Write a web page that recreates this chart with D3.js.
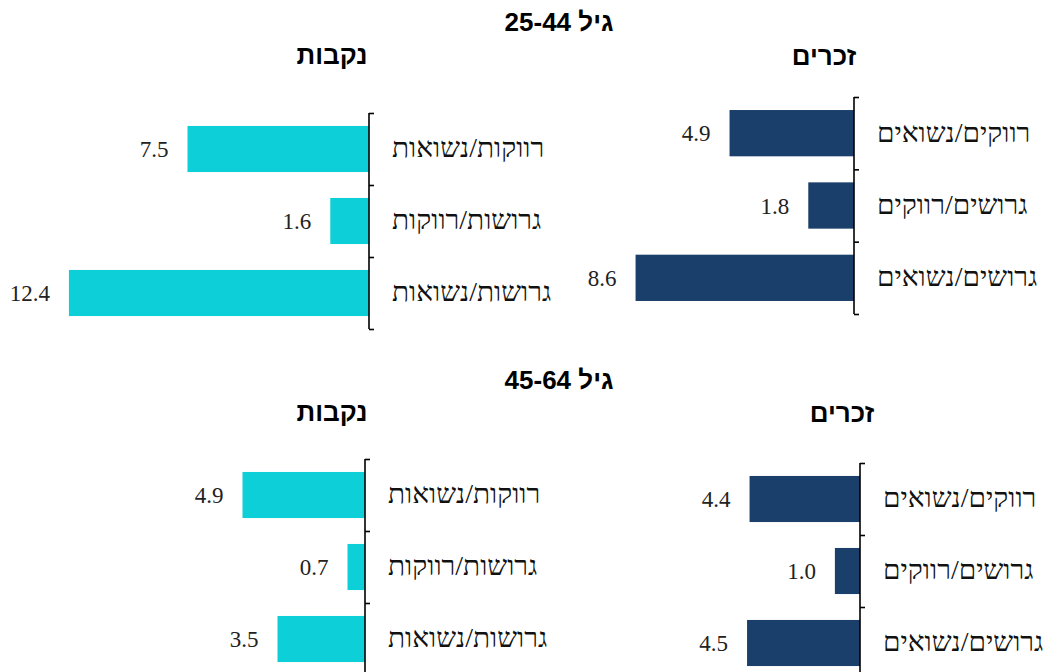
<!DOCTYPE html>
<html lang="he">
<head>
<meta charset="utf-8">
<script src="https://cdn.jsdelivr.net/npm/d3@7"></script>
<style>
  html, body { margin: 0; padding: 0; background: #fff; }
  svg { display: block; }
  .val { font-family: "Liberation Serif", "Times New Roman", serif; font-size: 23px; fill: #222; }
  .cat { font-family: "Liberation Serif", "Times New Roman", serif; font-size: 28px; fill: #111; }
  .head { font-family: "Liberation Sans", "DejaVu Sans", sans-serif; font-weight: bold; font-size: 26px; fill: #000; }
  .axis path, .axis line { stroke: #000; stroke-width: 1.6px; }
</style>
</head>
<body>
<svg id="chart" width="1044" height="672"></svg>
<script>
// Categories (marital status transitions)
const catsFemale = ["רווקות/נשואות", "גרושות/רווקות", "גרושות/נשואות"];
const catsMale   = ["רווקים/נשואים", "גרושים/רווקים", "גרושים/נשואים"];

// Values by age group and sex
const female2544 = [7.5, 1.6, 12.4];
const male2544   = [4.9, 1.8, 8.6];
const female4564 = [4.9, 0.7, 3.5];
const male4564   = [4.4, 1.0, 4.5];

// Heading texts
const ageTitles = ["גיל 25-44", "גיל 45-64"];
const sexTitles = ["נקבות", "זכרים"];

const colorFemale = "#0dcfd8";
const colorMale = "#1b3f6b";

const svg = d3.select("#chart");

// Panel layout: axis position, vertical extent and pixels per unit
const panels = [
  { cats: catsFemale, vals: female2544, color: colorFemale, axisX: 369, top: 113, bottom: 329, ppu: 24.2 },
  { cats: catsMale,   vals: male2544,   color: colorMale,   axisX: 854, top: 97,  bottom: 314, ppu: 25.4 },
  { cats: catsFemale, vals: female4564, color: colorFemale, axisX: 365, top: 459, bottom: 675, ppu: 25.0 },
  { cats: catsMale,   vals: male4564,   color: colorMale,   axisX: 860, top: 463, bottom: 679, ppu: 25.1 }
];

panels.forEach(p => {
  const g = svg.append("g");
  const maxV = 14;
  const x = d3.scaleLinear().domain([0, maxV]).range([p.axisX, p.axisX - maxV * p.ppu]);
  const y = d3.scaleBand().domain(p.cats).range([p.top, p.bottom]).paddingInner(0.36).paddingOuter(0.18);
  const yEdge = d3.scaleLinear().domain([0, p.cats.length]).range([p.top, p.bottom]);

  // bars
  g.selectAll("rect").data(p.cats).join("rect")
    .attr("x", (d, i) => x(p.vals[i]))
    .attr("y", d => y(d))
    .attr("width", (d, i) => x(0) - x(p.vals[i]))
    .attr("height", y.bandwidth())
    .attr("fill", p.color);

  // value labels
  g.selectAll("text.val").data(p.cats).join("text")
    .attr("class", "val")
    .attr("x", (d, i) => x(p.vals[i]) - 19)
    .attr("y", d => y(d) + y.bandwidth() / 2)
    .attr("dy", "0.35em")
    .attr("text-anchor", "end")
    .text((d, i) => p.vals[i].toFixed(1));

  // category axis with boundary ticks
  const ax = g.append("g").attr("class", "axis")
    .attr("transform", `translate(${p.axisX},0)`)
    .call(d3.axisRight(yEdge).tickValues(d3.range(p.cats.length + 1)).tickSize(5).tickSizeOuter(0).tickFormat(""));
  ax.select(".domain").attr("d", `M0,${p.top}V${p.bottom}`);

  // category labels
  g.selectAll("text.cat").data(p.cats).join("text")
    .attr("class", "cat")
    .attr("x", p.axisX + 23)
    .attr("y", d => y(d) + y.bandwidth() / 2)
    .attr("dy", "0.3em")
    .attr("text-anchor", "start")
    .text(d => d);
});

// headings
const heads = [
  { t: ageTitles[0], x: 559, y: 22, anchor: "middle" },
  { t: ageTitles[1], x: 559, y: 380, anchor: "middle" },
  { t: sexTitles[0], x: 332, y: 55, anchor: "middle" },
  { t: sexTitles[1], x: 824, y: 56, anchor: "middle" },
  { t: sexTitles[0], x: 332, y: 412, anchor: "middle" },
  { t: sexTitles[1], x: 842, y: 413, anchor: "middle" }
];
svg.selectAll("text.head").data(heads).join("text")
  .attr("class", "head")
  .attr("x", d => d.x)
  .attr("y", d => d.y)
  .attr("dy", "0.35em")
  .attr("text-anchor", d => d.anchor)
  .style("direction", "rtl")
  .style("unicode-bidi", "embed")
  .text(d => d.t);
</script>
</body>
</html>
